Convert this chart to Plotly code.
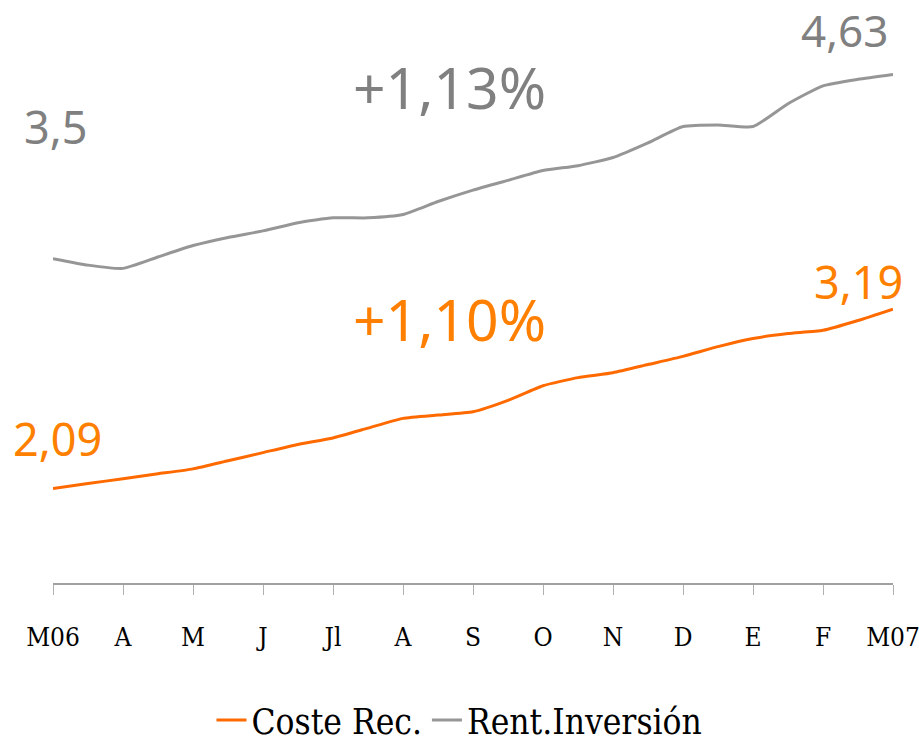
import plotly.graph_objects as go

# half-month sample index (0 = M06 ... 24 = M07)
idx = list(range(25))
tick_pos = [0, 2, 4, 6, 8, 10, 12, 14, 16, 18, 20, 22, 24]
tick_labels = ["M06", "A", "M", "J", "Jl", "A", "S", "O", "N", "D", "E", "F", "M07"]

coste_rec = [2.09, 2.12, 2.15, 2.18, 2.21, 2.26, 2.31, 2.36, 2.40, 2.46, 2.52, 2.54, 2.56,
             2.63, 2.72, 2.77, 2.80, 2.85, 2.90, 2.96, 3.01, 3.04, 3.06, 3.12, 3.19]
rent_inv = [3.50, 3.46, 3.44, 3.51, 3.58, 3.63, 3.67, 3.72, 3.75, 3.75, 3.77, 3.85, 3.92,
            3.98, 4.04, 4.07, 4.12, 4.21, 4.31, 4.32, 4.31, 4.45, 4.56, 4.60, 4.63]

ORANGE = "#FF6A00"
ORANGE_T = "#FF7F00"
GREY = "#969696"
GREY_T = "#808080"

fig = go.Figure()
fig.add_trace(go.Scatter(x=idx, y=coste_rec, mode="lines", name="Coste Rec.",
                         line=dict(color=ORANGE, width=3, shape="spline", smoothing=0.5)))
fig.add_trace(go.Scatter(x=idx, y=rent_inv, mode="lines", name="Rent.Inversión",
                         line=dict(color=GREY, width=3, shape="spline", smoothing=0.5)))

ann_font = "Noto Sans"
# (text, x index, y value, colour, size)
anns = [
    ("3,5", 0.08, 4.31, GREY_T, 45),
    ("+1,13%", 11.33, 4.55, GREY_T, 57),
    ("4,63", 22.6, 4.90, GREY_T, 44),
    ("2,09", 0.13, 2.395, ORANGE_T, 45),
    ("+1,10%", 11.33, 3.13, ORANGE_T, 57),
    ("3,19", 23.0, 3.36, ORANGE_T, 45),
]
for txt, x, y, c, s in anns:
    fig.add_annotation(x=x, y=y, xref="x", yref="y", text=txt, showarrow=False,
                       font=dict(family=ann_font, size=s, color=c),
                       xanchor="center", yanchor="middle")

COND = "DejaVu Serif Condensed, DejaVu Serif, serif"

fig.update_layout(
    width=919, height=741,
    margin=dict(l=53, r=26, t=10, b=158, autoexpand=False),
    paper_bgcolor="white", plot_bgcolor="white",
    showlegend=True,
    legend=dict(orientation="h", x=0.5, xanchor="center", xref="container",
                y=0.028, yanchor="middle", yref="container",
                font=dict(family=COND, size=35, color="#000000")),
    xaxis=dict(range=[0, 24], tickvals=tick_pos, ticktext=tick_labels, automargin=False,
               showgrid=False, zeroline=False, showline=True, linecolor="#A0A0A0",
               linewidth=1.5, ticks="outside", ticklen=10, tickcolor="#B0B0B0",
               ticklabelstandoff=20, ticklabeloverflow="allow",
               tickfont=dict(family=COND, size=26, color="#000000")),
    yaxis=dict(range=[1.51, 5.025], visible=False, showgrid=False, zeroline=False,
               automargin=False),
)

fig.write_html("out.html", config={"displayModeBar": False},
               post_script="document.body.style.margin='0';document.body.style.overflow='hidden';")
